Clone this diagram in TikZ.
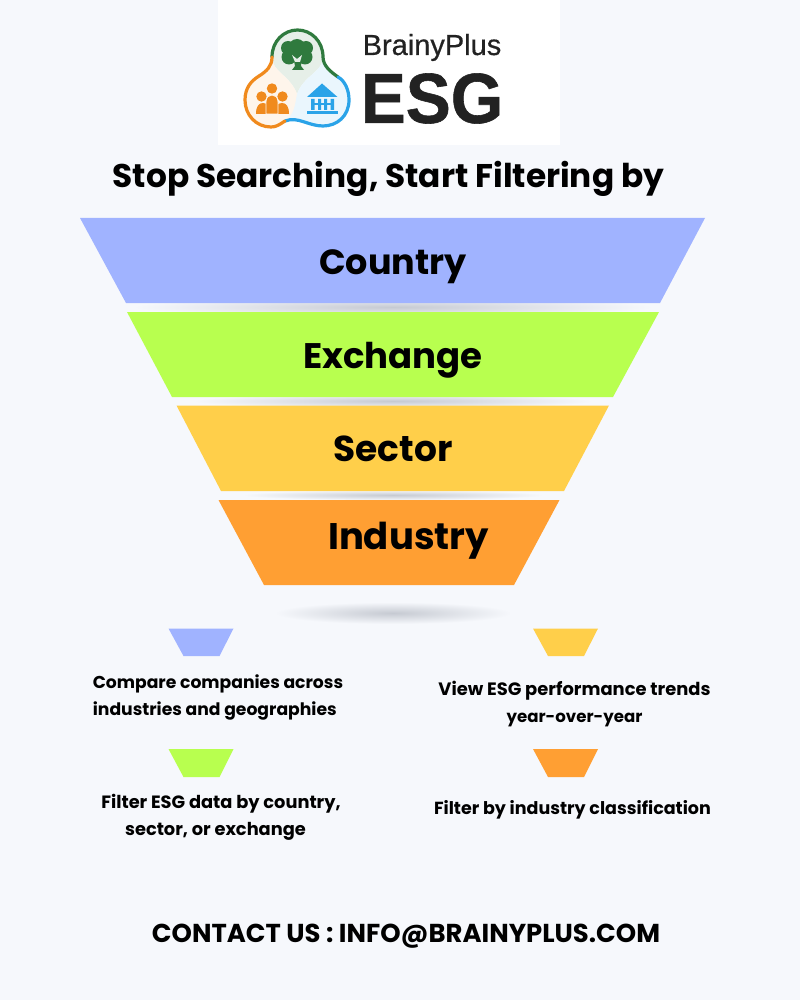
\documentclass[tikz,border=0pt]{standalone}
\usepackage{fontspec}
\setmainfont{Poppins}
\newfontfamily\brandfont[FakeBold=0.5]{Liberation Sans}
\newfontfamily\logofont[BoldFeatures={FakeBold=0.8}]{Liberation Sans}
\usetikzlibrary{%
  calc,%
  shapes.geometric%
}
\definecolor{pagebg}{HTML}{F6F8FC}
\definecolor{bandblue}{HTML}{A0B3FF}
\definecolor{bandgreen}{HTML}{B8FF4F}
\definecolor{bandyellow}{HTML}{FFCF4A}
\definecolor{bandorange}{HTML}{FF9F33}
\definecolor{logogreen}{HTML}{2F7A3E}
\definecolor{logoorange}{HTML}{F08A1D}
\definecolor{logoblue}{HTML}{2AA3E8}
\definecolor{logotext}{HTML}{222222}
\definecolor{shadowgrey}{HTML}{C6CAD2}
\tikzset{
  bandlabel/.style={font=\bfseries\fontsize{#1}{#1}\selectfont,text=black,inner sep=0pt,anchor=center},
  note/.style={font=\bfseries\fontsize{#1}{27}\selectfont,text=black,inner sep=0pt,align=center,anchor=center},
  shadowblob/.style={inner color=shadowgrey,outer color=pagebg},
  ring/.style={line width=3.2pt,line cap=round}
}
\begin{document}
\begin{tikzpicture}[x=1pt,y=-1pt]
\useasboundingbox (0,0) rectangle (800,1000);
\fill[pagebg] (0,0) rectangle (800,1000);
% logo
\fill[white] (218,0) rectangle (560,145);
\fill[logogreen!12!white] (272,57) .. controls (272,41) and (284,30) .. (297.5,30) .. controls (311,30) and (323,41) .. (323,57) .. controls (323,72) and (304,75) .. (297,94) .. controls (290,75) and (272,72) .. (272,57);
\fill[logoorange!9!white] (272,57) .. controls (272,72) and (290,75) .. (297,94) .. controls (299,104) and (295,114) .. (285,121) .. controls (279,125) and (276,127) .. (271,127) .. controls (256,127) and (245,115) .. (245,100) .. controls (245,88) and (251,81) .. (259,76) .. controls (267,71) and (272,66) .. (272,57);
\fill[logoblue!10!white] (323,57) .. controls (323,72) and (304,75) .. (297,94) .. controls (295,104) and (295,114) .. (285,121) .. controls (298,116) and (308,126) .. (323,126) .. controls (337,126) and (349,116) .. (349,100) .. controls (349,90) and (345,81) .. (338,77) .. controls (331,72) and (323,66) .. (323,57);
\draw[ring,logogreen] (272,57) .. controls (272,41) and (284,30) .. (297.5,30) .. controls (311,30) and (323,41) .. (323,57) .. controls (323,66) and (331,72) .. (338,77);
\draw[ring,logoblue] (338,77) .. controls (345,81) and (349,90) .. (349,100) .. controls (349,116) and (337,126) .. (323,126) .. controls (308,126) and (298,116) .. (285,121);
\draw[ring,logoorange] (285,121) .. controls (279,125) and (276,127) .. (271,127) .. controls (256,127) and (245,115) .. (245,100) .. controls (245,88) and (251,81) .. (259,76) .. controls (267,71) and (272,66) .. (272,57);
% tree
\fill[logogreen] (297,47.5) circle[radius=8.5pt] (288,48) circle[radius=7pt] (306,48) circle[radius=7pt] (289,57) circle[radius=7.5pt] (305,57) circle[radius=7.5pt];
\fill[logogreen] (293,56) -- (302,56) -- (301,66) -- (304,70) -- (292,70) -- (295,66) -- cycle;
\fill[logogreen!12!white] (292,55) -- (297,59) -- (302,55) -- (300,62) -- (295,62) -- cycle;
% people
\fill[logoorange] (272,88.5) circle[radius=5.2pt] (261.5,96.5) circle[radius=5.2pt] (282.5,96.5) circle[radius=5.2pt];
\fill[logoorange] (256,114) .. controls (256,106) and (259,103) .. (263,103) .. controls (267,103) and (270,106) .. (270,114) -- cycle;
\fill[logoorange] (275,114) .. controls (275,106) and (278,103) .. (282,103) .. controls (286,103) and (289,106) .. (289,114) -- cycle;
\filldraw[logoorange,draw=logoorange!9!white,line width=0.8pt] (266,114) -- (266,102) .. controls (266,97) and (269,95) .. (272,95) .. controls (275,95) and (278,97) .. (278,102) -- (278,114) -- cycle;
% bank
\fill[logoblue] (322,83.5) -- (337.5,97) -- (307,97) -- cycle;
\fill[logoblue] (307,111.5) rectangle (337.5,114);
\fill[logoblue] (311,99) rectangle (314.5,110) (318,99) rectangle (321,110) (324,99) rectangle (327,110) (330.5,99) rectangle (334,110);
\fill[logoblue] (311,103) rectangle (334,105);
\node[inner sep=0pt,text=logotext] (brand) at (432,47.5) {\brandfont\fontsize{29}{29}\selectfont BrainyPlus};
\node[inner sep=0pt,text=logotext] (esg) at (432,98.5) {\scalebox{0.95}[1]{\logofont\bfseries\fontsize{71}{71}\selectfont ESG}};
% title
\node[inner sep=0pt] (title) at (388.5,179) {\bfseries\fontsize{32.8}{33}\selectfont Stop Searching, Start Filtering by};
% funnel
\shade[shadowblob] (393,307) ellipse[x radius=260pt,y radius=10pt];
\shade[shadowblob] (393,401) ellipse[x radius=200pt,y radius=7pt];
\shade[shadowblob] (393,495) ellipse[x radius=150pt,y radius=5pt];
\shade[shadowblob] (393,613) ellipse[x radius=118pt,y radius=11pt];
\fill[bandblue] (80,218) -- (705,218) -- (660,303) -- (126,303) -- cycle;
\fill[bandgreen] (127,312) -- (659,312) -- (613,397) -- (172,397) -- cycle;
\fill[bandyellow] (176.5,405.5) -- (609,405.5) -- (564,491) -- (221,491) -- cycle;
\fill[bandorange] (218.5,500) -- (559.5,500) -- (514,585) -- (264,585) -- cycle;
\node[bandlabel=35] (country) at (393,267) {Country};
\node[bandlabel=35.5] (exchange) at (393,360) {Exchange};
\node[bandlabel=36] (sector) at (393,449) {Sector};
\node[bandlabel=37] (industry) at (408.5,541) {Industry};
% legend
\fill[bandblue] (168.5,628.5) -- (233.5,628.5) -- (219.5,656) -- (183.5,656) -- cycle;
\fill[bandyellow] (533,628.5) -- (598,628.5) -- (584,656) -- (548,656) -- cycle;
\fill[bandgreen] (168.5,749) -- (233.5,749) -- (219.5,777) -- (183.5,777) -- cycle;
\fill[bandorange] (533,749) -- (598,749) -- (584,777) -- (548,777) -- cycle;
\node[note=17.2,align=left] (compare) at (218,697) {Compare companies across\\industries and geographies};
\node[note=17.9] (view) at (574.5,704) {View ESG performance trends\\{\fontsize{16.6}{27}\selectfont year-over-year}};
\node[note=17.8] (filterdata) at (221,817) {Filter ESG data by country,\\sector, or exchange\hspace*{11pt}};
\node[note=17.5] (filterind) at (572.5,810) {Filter by industry classification};
% contact
\node[inner sep=0pt] (contact) at (406,936) {\bfseries\fontsize{25.9}{26}\selectfont CONTACT US : INFO@BRAINYPLUS.COM};
\end{tikzpicture}
\end{document}
